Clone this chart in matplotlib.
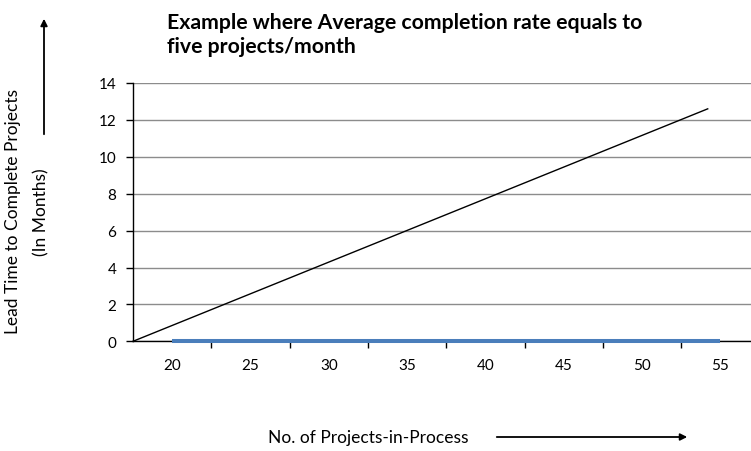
import numpy as np
import matplotlib
matplotlib.use("Agg")
import matplotlib.pyplot as plt
from matplotlib.ticker import FixedLocator

plt.rcParams['font.family'] = ['Lato', 'DejaVu Sans']

# Projects-in-process categories and the lead time series plotted on them
wip_labels = ['20', '25', '30', '35', '40', '45', '50', '55']
lead_time = [0, 0, 0, 0, 0, 0, 0, 0]

# Hand-drawn guide line (in projects-in-process units / months)
guide_wip = [17.5, 54.2]
guide_lead = [0, 12.6]

y_ticks = [0, 2, 4, 6, 8, 10, 12, 14]

fig = plt.figure(figsize=(7.51, 4.52), dpi=100)
W, H = 751, 452

# plot area in pixel units, the right edge runs past the figure
left, right, top, bottom = 133, 759.4, 84, 342.3
ax = fig.add_axes([left / W, (H - bottom) / H, (right - left) / W, (bottom - top) / H])

pos = np.arange(len(wip_labels))
ax.plot(pos, lead_time, color='#4A7EBB', lw=2.9, solid_capstyle='butt',
        zorder=5, clip_on=False)

guide_pos = [(v - 20) / 5 for v in guide_wip]
ax.plot(guide_pos, guide_lead, color='black', lw=1.0, zorder=4, clip_on=False)

ax.set_xlim(-0.5, len(wip_labels) - 0.5)
ax.set_ylim(0, 14)

ax.set_yticks(y_ticks)
ax.yaxis.grid(True, color='#8c8c8c', lw=1.0)
ax.set_axisbelow(True)

ax.set_xticks(pos)
ax.set_xticklabels(wip_labels)
ax.xaxis.set_minor_locator(FixedLocator(pos[:-1] + 0.5))
ax.tick_params(axis='x', which='major', length=0, pad=12, labelsize=11)
ax.tick_params(axis='x', which='minor', length=5, width=1, direction='out')
ax.tick_params(axis='y', length=5, width=1, direction='out', pad=7, labelsize=11)

for s in ['top', 'right']:
    ax.spines[s].set_visible(False)
ax.spines['left'].set_linewidth(1.0)
ax.spines['bottom'].set_linewidth(1.0)

# title, two left-aligned bold lines
fig.text(167 / W, 1 - 29 / H, 'Example where Average completion rate equals to',
         fontsize=15.3, fontweight='bold', ha='left', va='baseline')
fig.text(167 / W, 1 - 53 / H, 'five projects/month',
         fontsize=15.3, fontweight='bold', ha='left', va='baseline')

# axis titles with arrows
fig.text(13 / W, 1 - 212 / H, 'Lead Time to Complete Projects', rotation=90,
         fontsize=12.5, ha='center', va='center')
fig.text(41 / W, 1 - 212 / H, '(In Months)', rotation=90,
         fontsize=12.5, ha='center', va='center')
fig.text(368 / W, 1 - 438 / H, 'No. of Projects-in-Process',
         fontsize=12.5, ha='center', va='center')

fig.add_artist(matplotlib.patches.FancyArrowPatch(
    (44 / W, 1 - 138 / H), (44 / W, 1 - 17 / H), transform=fig.transFigure,
    arrowstyle='-|>', mutation_scale=10, lw=1.3, color='black'))
fig.add_artist(matplotlib.patches.FancyArrowPatch(
    (494 / W, 1 - 438 / H), (690 / W, 1 - 438 / H), transform=fig.transFigure,
    arrowstyle='-|>', mutation_scale=10, lw=1.3, color='black'))

fig.savefig('out.png', dpi=100)
